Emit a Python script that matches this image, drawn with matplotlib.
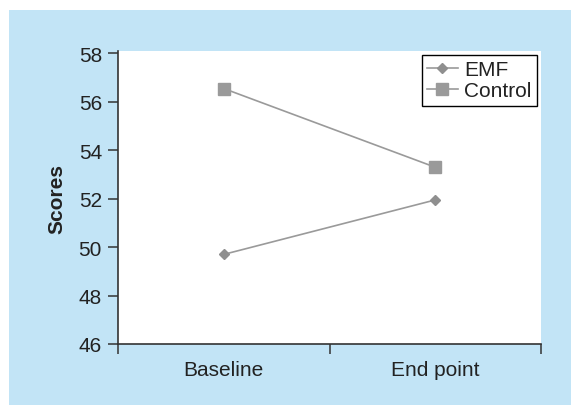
import matplotlib
matplotlib.use('Agg')
import matplotlib.pyplot as plt
from matplotlib.patches import Rectangle

# data
times = ['Baseline', 'End point']
emf = [49.7, 51.95]
control = [56.55, 53.3]

plt.rcParams['font.family'] = ['Liberation Sans', 'DejaVu Sans']
fs = 15

fig = plt.figure(figsize=(5.71, 4.06), dpi=100)
fig.patch.set_facecolor('white')
# light blue panel behind the plot
fig.patches.append(Rectangle((9/571, 0), 1, 1 - 11/406, transform=fig.transFigure,
                             facecolor='#c2e4f6', edgecolor='none', zorder=-10))

ax = fig.add_axes([118/571, 1 - 345/406, (541-118)/571, (345-52)/406])
ax.set_facecolor('white')

x = [0.5, 1.5]
gray = '#9a9a9a'
ax.plot(x, emf, color=gray, lw=1.2, marker='D', ms=5.5, mfc='#8f8f8f', mec='#8f8f8f', label='EMF')
ax.plot(x, control, color=gray, lw=1.2, marker='s', ms=9, mfc='#9a9a9a', mec='#9a9a9a', label='Control')

ax.set_xlim(0, 2)
ax.set_ylim(46, 58.1)
ax.set_yticks(range(46, 59, 2))
ax.set_xticks([0, 1, 2])
ax.set_xticklabels([])
ax.set_xticks(x, minor=True)
ax.set_xticklabels(times, minor=True)

ax.spines['top'].set_visible(False)
ax.spines['right'].set_visible(False)
for s in ['left', 'bottom']:
    ax.spines[s].set_color('#333333')
    ax.spines[s].set_linewidth(1.2)

ax.tick_params(axis='y', which='major', direction='out', length=7.5, width=1.1, color='#333333',
               labelsize=fs, labelcolor='#222222', pad=4)
ax.tick_params(axis='x', which='major', direction='out', length=7.5, width=1.1, color='#333333')
ax.tick_params(axis='x', which='minor', length=0, labelsize=fs, labelcolor='#222222', pad=11.5)

ax.set_ylabel('Scores', fontsize=fs, fontweight='bold', color='#222222', labelpad=9)

leg = ax.legend(loc='upper right', fontsize=fs, fancybox=False, framealpha=1, edgecolor='black',
                handlelength=1.5, handletextpad=0.3, labelspacing=0.1, borderpad=0.25, borderaxespad=0.2)
leg.get_frame().set_linewidth(1.0)
for t in leg.get_texts():
    t.set_color('#222222')

fig.savefig('out.png', dpi=100)
